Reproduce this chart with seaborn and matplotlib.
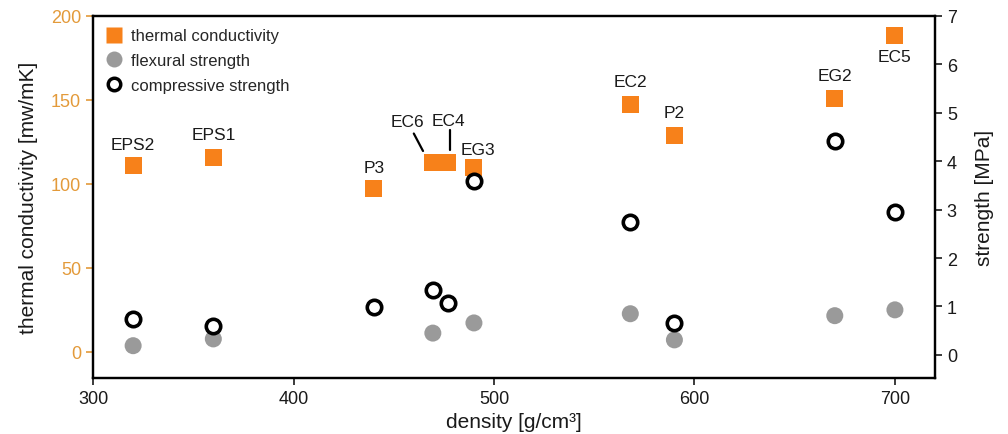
import numpy as np
import pandas as pd
import seaborn as sns
import matplotlib.pyplot as plt
from matplotlib.lines import Line2D

# sample names, density and measured values
samples = ['EPS2', 'EPS1', 'P3', 'EC6', 'EC4', 'EG3', 'EC2', 'P2', 'EG2', 'EC5']
density = [320, 360, 440, 469.5, 477, 490, 568, 590, 670, 700]
thermal = [111, 115.5, 97, 113, 113, 109.5, 147, 129, 151, 188.5]
flexural = [0.19, 0.33, np.nan, 0.45, np.nan, 0.66, 0.85, 0.31, 0.81, 0.93]
compressive = [0.74, 0.60, 0.99, 1.34, 1.07, 3.60, 2.75, 0.66, 4.42, 2.95]

# label offsets in pixels (dx, dy)
label_offsets = {
    'EPS2': (0, 21), 'EPS1': (0, 23), 'P3': (0, 21), 'EC6': (-25, 41),
    'EC4': (1, 42), 'EG3': (4, 18), 'EC2': (0, 23), 'P2': (0, 23),
    'EG2': (0, 23), 'EC5': (0, -21),
}

orange = '#F7811A'
tick_orange = '#E39A3A'
grey = '#9A9A9A'

df = pd.DataFrame({'sample': samples, 'density': density, 'thermal': thermal,
                   'flexural': flexural, 'compressive': compressive})

sns.set_style('ticks')
plt.rcParams['font.family'] = ['Liberation Sans', 'DejaVu Sans']

fig = plt.figure(figsize=(10.08, 4.35), dpi=100)
ax = fig.add_axes([0.0923, 0.129, 0.8353, 0.832])
ax2 = ax.twinx()

sns.scatterplot(data=df, x='density', y='thermal', ax=ax, marker='s', s=150,
                color=orange, edgecolor='none', zorder=3)
sns.scatterplot(data=df, x='density', y='flexural', ax=ax2, marker='o', s=150,
                color=grey, edgecolor='none', zorder=3)
sns.scatterplot(data=df, x='density', y='compressive', ax=ax2, marker='o', s=108,
                facecolor='white', edgecolor='black', linewidth=2.6, zorder=4)

for name, x, y in zip(samples, density, thermal):
    dx, dy = label_offsets[name]
    ax.annotate(name, (x, y), xytext=(dx, dy), textcoords='offset pixels',
                ha='center', va='center', fontsize=12.5, color='#1a1a1a')

# leader lines for the two overlapping samples
ax.plot([460, 464.6], [130, 119.6], color='black', lw=1.6)
ax.plot([478, 478], [132, 120], color='black', lw=1.6)

ax.set_xlim(300, 720)
ax.set_ylim(-15.5, 200)
ax2.set_ylim(-0.475, 7)
ax.set_xticks([300, 400, 500, 600, 700])
ax.set_yticks([0, 50, 100, 150, 200])
ax2.set_yticks(range(0, 8))

ax.set_xlabel('density [g/cm³]', fontsize=15, color='#1a1a1a', labelpad=4)
ax.set_ylabel('thermal conductivity [mw/mK]', fontsize=15, color='#1a1a1a', labelpad=9)
ax2.set_ylabel('strength [MPa]', fontsize=15, color='#1a1a1a', labelpad=13)

ax.tick_params(axis='x', labelsize=13, length=5, width=1.2, colors='#1a1a1a')
ax.tick_params(axis='y', labelsize=13, length=5, width=1.2, colors=tick_orange)
ax2.tick_params(axis='y', labelsize=13, length=5, width=1.2, colors='#1a1a1a')

for a in (ax, ax2):
    for sp in a.spines.values():
        sp.set_visible(True)
        sp.set_linewidth(1.6)
        sp.set_color('black')

handles = [
    Line2D([], [], marker='s', linestyle='none', markersize=12,
           markerfacecolor=orange, markeredgecolor='none'),
    Line2D([], [], marker='o', linestyle='none', markersize=11.5,
           markerfacecolor=grey, markeredgecolor='none'),
    Line2D([], [], marker='o', linestyle='none', markersize=9,
           markerfacecolor='white', markeredgecolor='black', markeredgewidth=2.5),
]
ax2.legend(handles, ['thermal conductivity', 'flexural strength', 'compressive strength'],
           loc='upper left', frameon=False, fontsize=12, handletextpad=0.5,
           borderaxespad=0.2, labelspacing=0.58, handlelength=1.0,
           borderpad=0.55)

fig.savefig('out.png', dpi=100)
